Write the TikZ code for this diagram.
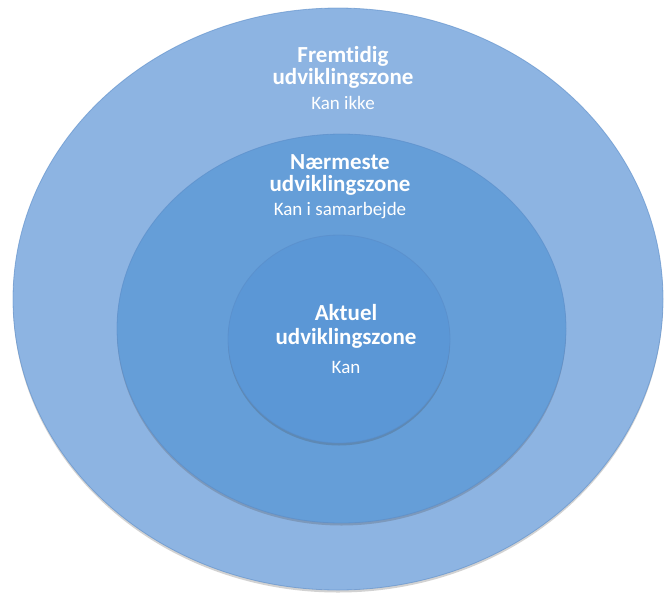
\documentclass[tikz,border=0pt]{standalone}
\usepackage{fontspec}
\setmainfont[Ligatures={NoCommon,NoRare}]{Carlito}
\usetikzlibrary{shapes.geometric,shadows}
\definecolor{outerc}{HTML}{8DB4E2}
\definecolor{midc}{HTML}{659ED8}
\definecolor{innerc}{HTML}{5B97D6}
\definecolor{edgec}{HTML}{5A8CC8}
\tikzset{
  zone/.style={ellipse, inner sep=0pt, outer sep=0pt, draw=edgec, draw opacity=0.6, line width=0.8pt,
    drop shadow={shadow xshift=0pt, shadow yshift=-2.5pt, opacity=0.25, fill=black!70}},
  headtxt/.style={text=white, anchor=base, inner sep=0pt, font=\fontsize{23}{24}\selectfont\bfseries},
  subtxt/.style={text=white, anchor=base, inner sep=0pt, font=\fontsize{19}{20}\selectfont}
}
\begin{document}
\begin{tikzpicture}[x=1pt,y=-1pt]
\useasboundingbox (0,0) rectangle (664,595);
\node[zone, fill=outerc, minimum width=650pt, minimum height=582pt] (outer) at (338,299) {};
\node[zone, fill=midc, minimum width=449pt, minimum height=389pt] (mid) at (341.5,328.5) {};
\node[zone, fill=innerc, minimum width=222pt, minimum height=208pt] (inner) at (339,339) {};
\node[headtxt] (t1a) at (343,62) {Fremtidig};
\node[headtxt] (t1b) at (343,84) {udviklingszone};
\node[subtxt] (t1c) at (343,109) {Kan ikke};
\node[headtxt] (t2a) at (340,169) {Nærmeste};
\node[headtxt] (t2b) at (340,191) {udviklingszone};
\node[subtxt] (t2c) at (340,215) {Kan i samarbejde};
\node[headtxt] (t3a) at (346,320) {Aktuel};
\node[headtxt] (t3b) at (346,344) {udviklingszone};
\node[subtxt] (t3c) at (346,373) {Kan};
\end{tikzpicture}
\end{document}
